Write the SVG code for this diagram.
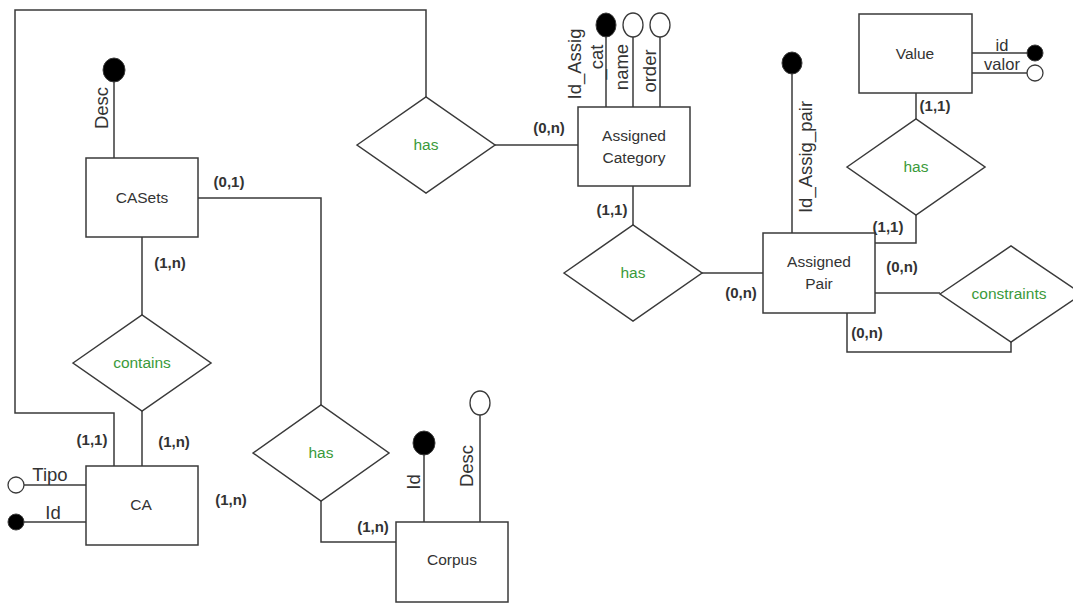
<svg xmlns="http://www.w3.org/2000/svg" width="1073" height="603" viewBox="0 0 1073 603">
<style>
.box{fill:#fff;stroke:#3a3a3a;stroke-width:1.5}
.dia{fill:#fff;stroke:#3a3a3a;stroke-width:1.5}
.ln{fill:none;stroke:#3a3a3a;stroke-width:1.5}
.key{fill:#000;stroke:#3a3a3a;stroke-width:1}
.opt{fill:#fff;stroke:#3a3a3a;stroke-width:1.3}
.ent{font-family:"Liberation Sans",Arial,sans-serif;font-size:15.5px;fill:#333;text-anchor:middle}
.rel{font-family:"Liberation Sans",Arial,sans-serif;font-size:15.5px;fill:#3a9a3a;text-anchor:middle}
.card{font-family:"Liberation Sans",Arial,sans-serif;font-size:15px;font-weight:bold;fill:#333;text-anchor:middle}
.att{font-family:"Liberation Sans",Arial,sans-serif;font-size:18.5px;fill:#333;text-anchor:middle}
.att2{font-family:"Liberation Sans",Arial,sans-serif;font-size:16.5px;fill:#333;text-anchor:middle}
</style>
<rect width="1073" height="603" fill="#fff"/>
<g id="connectors">
<path class="ln" d="M114,466 V413 H15 V10 H426 V97"/>
<path class="ln" d="M198,198 H321 V405"/>
<path class="ln" d="M321,501 V542 H396"/>
<path class="ln" d="M142,237 V315"/>
<path class="ln" d="M142,411 V466"/>
<path class="ln" d="M495,145 H578"/>
<path class="ln" d="M633,186 V225"/>
<path class="ln" d="M702,273 H763"/>
<path class="ln" d="M916,93 V119"/>
<path class="ln" d="M916,215 V243 H875"/>
<path class="ln" d="M875,293 H940"/>
<path class="ln" d="M847,313 V352 H1011 V342"/>
</g>
<g id="CASets">
<line class="ln" x1="114" y1="82" x2="114" y2="158"/>
<ellipse class="key" cx="114" cy="70" rx="11" ry="12"/>
<text class="att" transform="translate(108,108) rotate(-90)">Desc</text>
<rect class="box" x="86" y="158" width="112" height="79"/>
<text class="ent" x="142" y="203">CASets</text>
</g>
<g id="CA">
<line class="ln" x1="24" y1="485" x2="86" y2="485"/>
<line class="ln" x1="24" y1="522" x2="86" y2="522"/>
<circle class="opt" cx="16" cy="485" r="8"/>
<circle class="key" cx="16" cy="522" r="8"/>
<text class="att" x="50" y="481">Tipo</text>
<text class="att" x="53" y="519">Id</text>
<rect class="box" x="86" y="466" width="112" height="79"/>
<text class="ent" x="141" y="510">CA</text>
</g>
<g id="Corpus">
<line class="ln" x1="424" y1="455" x2="424" y2="522"/>
<line class="ln" x1="480" y1="415" x2="480" y2="522"/>
<ellipse class="key" cx="424" cy="443" rx="11" ry="12"/>
<ellipse class="opt" cx="480" cy="403" rx="10" ry="12"/>
<text class="att" transform="translate(420,482) rotate(-90)">Id</text>
<text class="att" transform="translate(473,466) rotate(-90)">Desc</text>
<rect class="box" x="396" y="522" width="112" height="80"/>
<text class="ent" x="452" y="565">Corpus</text>
</g>
<g id="AssignedCategory">
<line class="ln" x1="606" y1="37" x2="606" y2="107"/>
<line class="ln" x1="633" y1="37" x2="633" y2="107"/>
<line class="ln" x1="660" y1="37" x2="660" y2="107"/>
<ellipse class="key" cx="606" cy="25" rx="10" ry="12"/>
<ellipse class="opt" cx="633" cy="25" rx="10" ry="12"/>
<ellipse class="opt" cx="660" cy="25" rx="10" ry="12"/>
<text class="att" transform="translate(581,64) rotate(-90)">Id_Assig</text>
<text class="att" transform="translate(603,62) rotate(-90)">_cat</text>
<text class="att" transform="translate(628,67) rotate(-90)">name</text>
<text class="att" transform="translate(656,71) rotate(-90)">order</text>
<rect class="box" x="578" y="107" width="112" height="79"/>
<text class="ent" x="634" y="141">Assigned</text>
<text class="ent" x="634" y="163">Category</text>
</g>
<g id="AssignedPair">
<line class="ln" x1="792" y1="74" x2="792" y2="233"/>
<ellipse class="key" cx="792" cy="63" rx="10" ry="11"/>
<text class="att" transform="translate(812,157) rotate(-90)">Id_Assig_pair</text>
<rect class="box" x="763" y="233" width="112" height="80"/>
<text class="ent" x="819" y="267">Assigned</text>
<text class="ent" x="819" y="289">Pair</text>
</g>
<g id="Value">
<line class="ln" x1="972" y1="53" x2="1027" y2="53"/>
<line class="ln" x1="972" y1="73" x2="1027" y2="73"/>
<circle class="key" cx="1035" cy="53" r="8"/>
<circle class="opt" cx="1035" cy="73" r="8"/>
<text class="att2" x="1002" y="51">id</text>
<text class="att2" x="1002" y="70">valor</text>
<rect class="box" x="859" y="14" width="113" height="79"/>
<text class="ent" x="915" y="59">Value</text>
</g>
<g id="has1">
<polygon class="dia" points="357,145 426,97 495,145 426,193"/>
<text class="rel" x="426" y="150">has</text>
</g>
<g id="has2">
<polygon class="dia" points="564,273 633,225 702,273 633,321"/>
<text class="rel" x="633" y="278">has</text>
</g>
<g id="has3">
<polygon class="dia" points="847,167 916,119 985,167 916,215"/>
<text class="rel" x="916" y="172">has</text>
</g>
<g id="constraints">
<polygon class="dia" points="940,294 1011,246 1082,294 1011,342"/>
<text class="rel" x="1009" y="299">constraints</text>
</g>
<g id="contains">
<polygon class="dia" points="73,363 142,315 211,363 142,411"/>
<text class="rel" x="142" y="368">contains</text>
</g>
<g id="has4">
<polygon class="dia" points="253,453 321,405 389,453 321,501"/>
<text class="rel" x="321" y="458">has</text>
</g>
<g id="cardinalities">
<text class="card" x="549" y="133">(0,n)</text>
<text class="card" x="612" y="215">(1,1)</text>
<text class="card" x="741" y="298">(0,n)</text>
<text class="card" x="935" y="111">(1,1)</text>
<text class="card" x="888" y="232">(1,1)</text>
<text class="card" x="902" y="272">(0,n)</text>
<text class="card" x="867" y="338">(0,n)</text>
<text class="card" x="229" y="187">(0,1)</text>
<text class="card" x="170" y="268">(1,n)</text>
<text class="card" x="174" y="447">(1,n)</text>
<text class="card" x="92" y="445">(1,1)</text>
<text class="card" x="231" y="505">(1,n)</text>
<text class="card" x="373" y="532">(1,n)</text>
</g>
</svg>
